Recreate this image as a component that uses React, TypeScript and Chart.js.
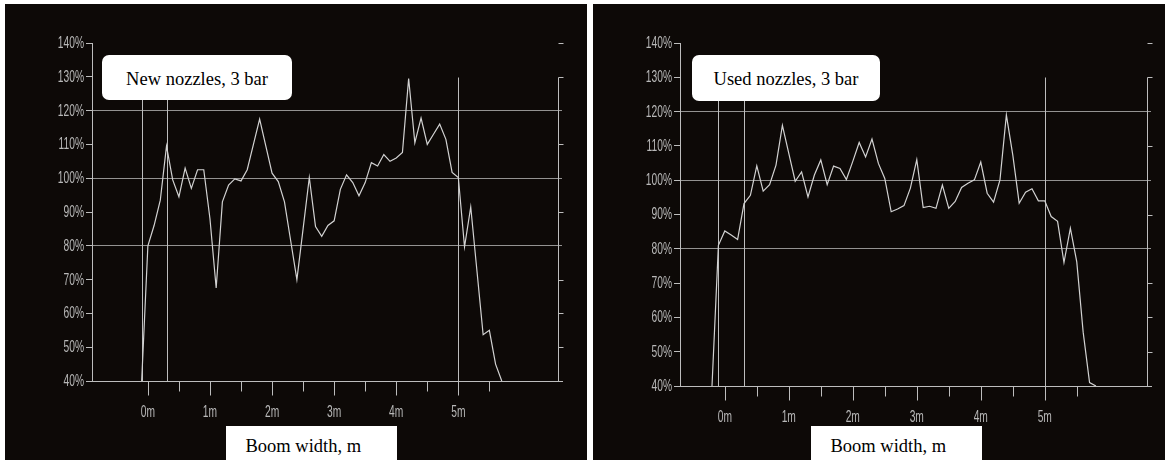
import React, { useEffect, useRef } from 'react';
import { Chart, registerables } from 'chart.js';

Chart.register(...registerables);

// ---- data ----
const newDistance = [
  -0.1, 0.0, 0.1, 0.2, 0.3, 0.4, 0.5, 0.6, 0.7, 0.8, 0.9,
  1.0, 1.1, 1.2, 1.3, 1.4, 1.5, 1.6, 1.7, 1.8, 1.9,
  2.0, 2.1, 2.2, 2.3, 2.4, 2.5, 2.6, 2.7, 2.8, 2.9,
  3.0, 3.1, 3.2, 3.3, 3.4, 3.5, 3.6, 3.7, 3.8, 3.9,
  4.0, 4.1, 4.2, 4.3, 4.4, 4.5, 4.6, 4.7, 4.8, 4.9,
  5.0, 5.1, 5.2, 5.3, 5.4, 5.5, 5.6, 5.7,
];
const newCoverage = [
  40, 80, 86, 93.5, 109.5, 99.5, 94.5, 103, 97, 102.5, 102.5,
  88, 67.5, 93, 98, 99.8, 99.2, 102.5, 110, 117.5, 109.5,
  101.5, 99, 93, 81.5, 70, 85, 100.2, 85.7, 82.8, 86,
  87.4, 96.7, 101, 98.7, 94.8, 98.7, 104.6, 103.6, 107, 105,
  106, 107.6, 129.5, 110.5, 117.8, 110, 113, 116, 111.5, 101.7,
  100.2, 79.7, 91.5, 72.6, 53.7, 55, 45, 40,
];

const usedDistance = [
  -0.2, -0.1, 0.0, 0.1, 0.2, 0.3, 0.4, 0.5, 0.6, 0.7, 0.8, 0.9,
  1.0, 1.1, 1.2, 1.3, 1.4, 1.5, 1.6, 1.7, 1.8, 1.9,
  2.0, 2.1, 2.2, 2.3, 2.4, 2.5, 2.6, 2.7, 2.8, 2.9,
  3.0, 3.1, 3.2, 3.3, 3.4, 3.5, 3.6, 3.7, 3.8, 3.9,
  4.0, 4.1, 4.2, 4.3, 4.4, 4.5, 4.6, 4.7, 4.8, 4.9,
  5.0, 5.1, 5.2, 5.3, 5.4, 5.5, 5.6, 5.7, 5.8,
];
const usedCoverage = [
  40, 81, 85.2, 84, 82.7, 93.2, 95.6, 104.2, 96.8, 98.7, 104.4, 116,
  107.8, 99.7, 102.4, 95.1, 101.5, 105.9, 98.7, 104.1, 103.4, 100.2,
  105.5, 111, 106.8, 112, 104.9, 100.5, 90.8, 91.6, 92.6, 97.7,
  106, 92, 92.4, 91.8, 98.6, 91.8, 93.8, 97.9, 99.1, 100.1,
  105.3, 96.2, 93.6, 100.1, 119, 107.4, 93.3, 96.5, 97.5, 94,
  94, 89.4, 88, 76, 86, 76.2, 55.7, 41, 40,
];

const yTickValues = [40, 50, 60, 70, 80, 90, 100, 110, 120, 130, 140];
const gridValues = [80, 100, 120];
const xLabelTicks = [0, 1, 2, 3, 4, 5];
const xMinorTicks = [0.5, 1.5, 2.5, 3.5, 4.5, 5.5];
const markerLines = [-0.1, 0.3, 5.0];
const rightAxisPosition = 6.6;
const rightAxisTop = 130;
const rightAxisTicks = [140, 130, 110, 90, 70, 60, 50];
const titles = ['New nozzles, 3 bar', 'Used nozzles, 3 bar'];
const axisTitle = 'Boom width, m';

// ---- styling ----
const PANEL_BG = '#0d0907';
const AXIS = '#bdbdbd';
const GRID = 'rgba(200,200,200,0.72)';
const LINE = '#d2d2d2';
const TICK_TEXT = '#b8b8b8';
const TICK_FONT = "'Liberation Sans', Arial, sans-serif";
const SERIF = "'Liberation Serif', 'Times New Roman', serif";

const overlayPlugin = {
  id: 'overlay',
  beforeDatasetsDraw(chart: any) {
    const { ctx, scales } = chart;
    const x = scales.x;
    const y = scales.y;
    const line = (x1: number, y1: number, x2: number, y2: number) => {
      ctx.beginPath();
      ctx.moveTo(x1, y1);
      ctx.lineTo(x2, y2);
      ctx.stroke();
    };
    const px = (v: number) => Math.round(x.getPixelForValue(v)) + 0.5;
    const py = (v: number) => Math.round(y.getPixelForValue(v)) + 0.5;
    ctx.save();
    ctx.lineWidth = 1;
    ctx.strokeStyle = AXIS;
    markerLines.forEach((m) => line(px(m), py(rightAxisTop), px(m), py(40)));
    const rx = px(rightAxisPosition);
    line(rx, py(rightAxisTop), rx, py(40));
    rightAxisTicks.forEach((v) => line(rx, py(v), rx + 5, py(v)));
    const base = py(40);
    xLabelTicks.forEach((m) => line(px(m), base, px(m), base + 14));
    xMinorTicks.forEach((m) => line(px(m), base, px(m), base + 10));
    ctx.restore();
  },
  afterDraw(chart: any) {
    // condensed tick labels (the reference uses a very narrow sans face)
    const { ctx, scales, chartArea } = chart;
    const x = scales.x;
    const y = scales.y;
    ctx.save();
    ctx.fillStyle = TICK_TEXT;
    ctx.font = `16px ${TICK_FONT}`;
    ctx.textBaseline = 'middle';
    ctx.textAlign = 'right';
    yTickValues.forEach((v) => {
      ctx.save();
      ctx.translate(chartArea.left - 8, y.getPixelForValue(v) + 0.5);
      ctx.scale(0.64, 1);
      ctx.fillText(`${v}%`, 0, 0);
      ctx.restore();
    });
    ctx.textAlign = 'center';
    const base = y.getPixelForValue(40);
    xLabelTicks.forEach((m) => {
      ctx.save();
      ctx.translate(x.getPixelForValue(m), base + 31.5);
      ctx.scale(0.64, 1);
      ctx.fillText(`${m}m`, 0, 0);
      ctx.restore();
    });
    ctx.restore();
  },
};

type PanelCfg = {
  left: number;
  width: number;
  xMin: number;
  xMax: number;
  pad: { left: number; right: number; top: number; bottom: number };
  titleBox: { left: number; top: number; width: number; height: number };
  boomBox: { left: number; top: number; width: number; height: number };
};

const panels: PanelCfg[] = [
  {
    left: 5,
    width: 582,
    xMin: -0.9,
    xMax: 6.67,
    pad: { left: 27, right: 25, top: 39, bottom: 29 },
    titleBox: { left: 97, top: 51, width: 190, height: 45 },
    boomBox: { left: 221, top: 422, width: 171, height: 34 },
  },
  {
    left: 593,
    width: 572,
    xMin: -0.7,
    xMax: 6.66,
    pad: { left: 27, right: 14, top: 39, bottom: 24 },
    titleBox: { left: 99, top: 51, width: 188, height: 46 },
    boomBox: { left: 218, top: 422, width: 171, height: 34 },
  },
];

function Panel({ cfg, distances, values, title }: { cfg: PanelCfg; distances: number[]; values: number[]; title: string }) {
  const ref = useRef<HTMLCanvasElement | null>(null);
  useEffect(() => {
    if (!ref.current) return;
    const chart = new Chart(ref.current, {
      type: 'line',
      data: {
        datasets: [
          {
            data: distances.map((d, i) => ({ x: d, y: values[i] })),
            borderColor: LINE,
            borderWidth: 1.2,
            pointRadius: 0,
            fill: false,
            tension: 0,
          },
        ],
      },
      options: {
        responsive: false,
        animation: false,
        events: [],
        layout: { padding: cfg.pad },
        plugins: { legend: { display: false }, tooltip: { enabled: false } },
        scales: {
          x: {
            type: 'linear',
            min: cfg.xMin,
            max: cfg.xMax,
            afterBuildTicks: (s: any) => {
              s.ticks = [...xLabelTicks, ...xMinorTicks].sort((a, b) => a - b).map((v) => ({ value: v }));
            },
            afterFit: (s: any) => {
              s.height = 50;
            },
            ticks: {
              display: false,
              autoSkip: false,
              maxRotation: 0,
              callback: (v: any) => (xLabelTicks.includes(Number(v)) ? `${v}m` : ''),
            },
            grid: { display: false, drawTicks: false },
            border: { display: true, color: AXIS, width: 1 },
          },
          y: {
            type: 'linear',
            min: 40,
            max: 140,
            afterBuildTicks: (s: any) => {
              s.ticks = yTickValues.map((v) => ({ value: v }));
            },
            afterFit: (s: any) => {
              s.width = 60;
            },
            ticks: {
              display: false,
              callback: (v: any) => `${v}%`,
            },
            grid: {
              color: (c: any) => (c.tick && gridValues.includes(c.tick.value) ? GRID : 'rgba(0,0,0,0)'),
              tickColor: AXIS,
              tickLength: 6,
              drawTicks: true,
              lineWidth: 1,
            },
            border: { display: true, color: AXIS, width: 1 },
          },
        },
      } as any,
      plugins: [overlayPlugin],
    });
    return () => chart.destroy();
  }, [cfg, distances, values]);

  return (
    <div
      style={{
        position: 'absolute',
        left: cfg.left,
        top: 4,
        width: cfg.width,
        height: 456,
        background: PANEL_BG,
        overflow: 'hidden',
      }}
    >
      <canvas
        ref={ref}
        width={cfg.width}
        height={456}
        style={{ position: 'absolute', left: 0, top: 0, width: cfg.width, height: 456, display: 'block' }}
      />
      <div
        style={{
          position: 'absolute',
          left: cfg.titleBox.left,
          top: cfg.titleBox.top,
          width: cfg.titleBox.width,
          height: cfg.titleBox.height,
          boxSizing: 'border-box',
          background: '#ffffff',
          borderRadius: 7,
          fontFamily: SERIF,
          fontSize: 18.5,
          lineHeight: '18.5px',
          paddingTop: 14.5,
          textAlign: 'center',
          color: '#000',
          whiteSpace: 'nowrap',
        }}
      >
        {title}
      </div>
      <div
        style={{
          position: 'absolute',
          left: cfg.boomBox.left,
          top: cfg.boomBox.top,
          width: cfg.boomBox.width,
          height: cfg.boomBox.height,
          boxSizing: 'border-box',
          background: '#ffffff',
          fontFamily: SERIF,
          fontSize: 18.5,
          lineHeight: '18.5px',
          paddingTop: 11,
          paddingLeft: 19.5,
          color: '#000',
          whiteSpace: 'nowrap',
        }}
      >
        {axisTitle}
      </div>
    </div>
  );
}

export default function App() {
  return (
    <div
      style={{
        position: 'fixed',
        left: 0,
        top: 0,
        width: 1165,
        height: 460,
        background: '#ffffff',
        overflow: 'hidden',
      }}
    >
      <Panel cfg={panels[0]} distances={newDistance} values={newCoverage} title={titles[0]} />
      <Panel cfg={panels[1]} distances={usedDistance} values={usedCoverage} title={titles[1]} />
    </div>
  );
}
